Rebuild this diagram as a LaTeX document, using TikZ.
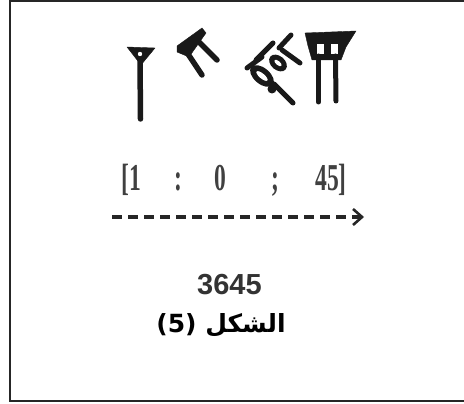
\documentclass[tikz,border=0pt]{standalone}
\usepackage{fontspec}
\setmainfont{Liberation Serif}
\newfontfamily\sansbold{Liberation Sans}
\newfontfamily\arabicfont[Script=Arabic]{DejaVu Sans}
\TeXXeTstate=1
\usetikzlibrary{arrows.meta}
\tikzset{
  wedge/.style={fill=black!90, draw=black!90, line join=round},
  stroke/.style={draw=black!90, line cap=round, line width=#1},
  stroke/.default=5pt,
  hole/.style={fill=white},
  numtok/.style={font=\bfseries\fontsize{38}{38}\selectfont, text=black!75, xscale=0.62, inner sep=0pt, anchor=base},
}
\begin{document}
\begin{tikzpicture}[x=1pt,y=-1pt]
\useasboundingbox (0,0) rectangle (464,404);
% frame (right side cut off)
\draw[line width=1.6pt, black!85] (466,1) -- (9.8,1) -- (9.8,401) -- (466,401);

% sign 1 : single vertical wedge
\fill[wedge] (127,47) -- (155,48) -- (141,65) -- cycle;
\fill[hole] (140,54) circle (2.2);
\draw[stroke=5.5pt] (140,60) -- (140.5,119);

% sign 2 : Winkelhaken-like sign
\fill[wedge] (202,28) -- (206,33) -- (189,57) -- (177,52) -- (177,46) -- cycle;
\draw[stroke=5.5pt] (188,54) -- (202,75);
\draw[stroke=5.5pt] (198,41) -- (217,60);

% sign 3 : cluster of tens (rotated)
\fill[black!90, rotate around={-40:(262,76)}] (262,76) ellipse [x radius=14, y radius=8];
\fill[white, rotate around={-40:(262,76)}] (262,76) ellipse [x radius=7, y radius=2.5];
\fill[black!90, rotate around={-40:(278,63)}] (278,63) ellipse [x radius=10, y radius=7];
\fill[white, rotate around={-40:(278,63)}] (278,63) ellipse [x radius=4.5, y radius=2];
\draw[stroke=5pt] (256,60) -- (273,43);
\draw[stroke=5pt] (279,48) -- (291,35);
\draw[stroke=5pt] (282,50) -- (300,63);
\draw[stroke=5pt] (274,84) -- (293,103);
\fill[black!90] (272,89) circle (4.5);
\draw[stroke=5pt] (247,68) -- (262,57);

% sign 4 : ones
\fill[wedge] (305,33) -- (356,31) -- (346,47) -- (341,60) -- (312,60) -- (308,46) -- cycle;
\fill[hole] (317,44) rectangle (324,54);
\fill[hole] (331,44) rectangle (338,54);
\draw[stroke=5pt] (318.5,56) -- (318.5,102);
\draw[stroke=5pt] (335.5,56) -- (336,101);

% transcription
\node[numtok] (t1) at (131,190) {[1};
\node[numtok] (t2) at (178,190) {:};
\node[numtok] (t3) at (220,190) {0};
\node[numtok] (t4) at (275,190) {;};
\node[numtok] (t5) at (331,190) {45]};

% dashed arrow
\coordinate (as) at (112,217);
\coordinate (ae) at (364,217);
\draw[black!85, line width=3.5pt, dash pattern=on 10pt off 6pt,
  -{Straight Barb[length=9pt, width=16pt, line width=2.6pt]}] (as) -- (ae);

% result
\node[font=\sansbold\bfseries\fontsize{29}{29}\selectfont, text=black!80] (res) at (229.5,285) {3645};
\node[font=\arabicfont\bfseries\fontsize{25}{25}\selectfont] (cap) at (221,325) {\beginR الشكل (5)\endR};
\end{tikzpicture}
\end{document}
